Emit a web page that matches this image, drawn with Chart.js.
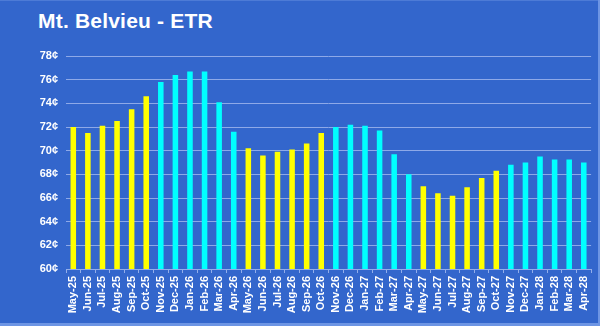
<!DOCTYPE html>
<html>
<head>
<meta charset="utf-8">
<script src="https://cdn.jsdelivr.net/npm/chart.js@4/dist/chart.umd.min.js"></script>
<style>
  html, body { margin:0; padding:0; }
  body { width:600px; height:326px; background:#6d95e4; position:relative; overflow:hidden; }
  .panel { position:absolute; left:0; top:0; width:598px; height:323px; background:#3366cc; border-top:1px solid #4d7bd6; box-sizing:border-box; }
  .title { position:absolute; left:38px; top:9px; color:#fff; font:bold 21px "Liberation Sans", Arial, sans-serif; letter-spacing:0.2px; }
  .wrap { position:absolute; left:0; top:0; width:600px; height:326px; }
  canvas { display:block; }
</style>
</head>
<body>
<div class="panel"></div>
<div class="title">Mt. Belvieu - ETR</div>
<div class="wrap"><canvas id="etr" width="600" height="326"></canvas></div>
<script>
// monthly strip, cents per gallon
const MONTHS = ['May-25','Jun-25','Jul-25','Aug-25','Sep-25','Oct-25','Nov-25','Dec-25','Jan-26','Feb-26','Mar-26','Apr-26',
                'May-26','Jun-26','Jul-26','Aug-26','Sep-26','Oct-26','Nov-26','Dec-26','Jan-27','Feb-27','Mar-27','Apr-27',
                'May-27','Jun-27','Jul-27','Aug-27','Sep-27','Oct-27','Nov-27','Dec-27','Jan-28','Feb-28','Mar-28','Apr-28'];
const PRICES = [72.0, 71.5, 72.1, 72.5, 73.5, 74.6, 75.8, 76.4, 76.7, 76.7, 74.1, 71.6,
                70.2, 69.6, 69.9, 70.1, 70.6, 71.5, 72.0, 72.2, 72.1, 71.7, 69.7, 68.0,
                67.0, 66.4, 66.2, 66.9, 67.7, 68.3, 68.8, 69.0, 69.5, 69.25, 69.25, 69.0];
const Y_MIN = 60, Y_MAX = 78, Y_STEP = 2;

const SUMMER = ['May','Jun','Jul','Aug','Sep','Oct'];
const barColor = m => SUMMER.includes(m.slice(0,3)) ? '#ffff00' : '#00ffff';

const FONT = '"Liberation Sans", Arial, sans-serif';

new Chart(document.getElementById('etr'), {
  type: 'bar',
  data: {
    labels: MONTHS,
    datasets: [{
      data: PRICES,
      backgroundColor: MONTHS.map(barColor),
      borderWidth: 0,
      categoryPercentage: 1,
      barPercentage: 0.38
    }]
  },
  options: {
    responsive: false,
    animation: false,
    devicePixelRatio: 1,
    layout: { padding: { top: 56, right: 1, left: 0, bottom: 0 } },
    plugins: { legend: { display: false }, tooltip: { enabled: false } },
    scales: {
      x: {
        offset: true,
        grid: { display: true, drawOnChartArea: false, drawTicks: true, tickLength: 4, color: '#93aeea', offset: true },
        border: { display: true, color: '#93aeea', width: 1 },
        ticks: { color: '#fff', font: { family: FONT, size: 11, weight: 'bold' }, minRotation: 90, maxRotation: 90, padding: 3, autoSkip: false },
        afterFit: s => { s.height = 57; }
      },
      y: {
        min: Y_MIN, max: Y_MAX,
        grid: { color: '#8ea9e8', drawTicks: false, lineWidth: 1 },
        border: { display: false },
        ticks: { stepSize: Y_STEP, color: '#fff', padding: 8, font: { family: FONT, size: 11, weight: 'bold' }, callback: v => v + '¢' },
        afterFit: s => { s.width = 66; }
      }
    }
  }
});
</script>
</body>
</html>
